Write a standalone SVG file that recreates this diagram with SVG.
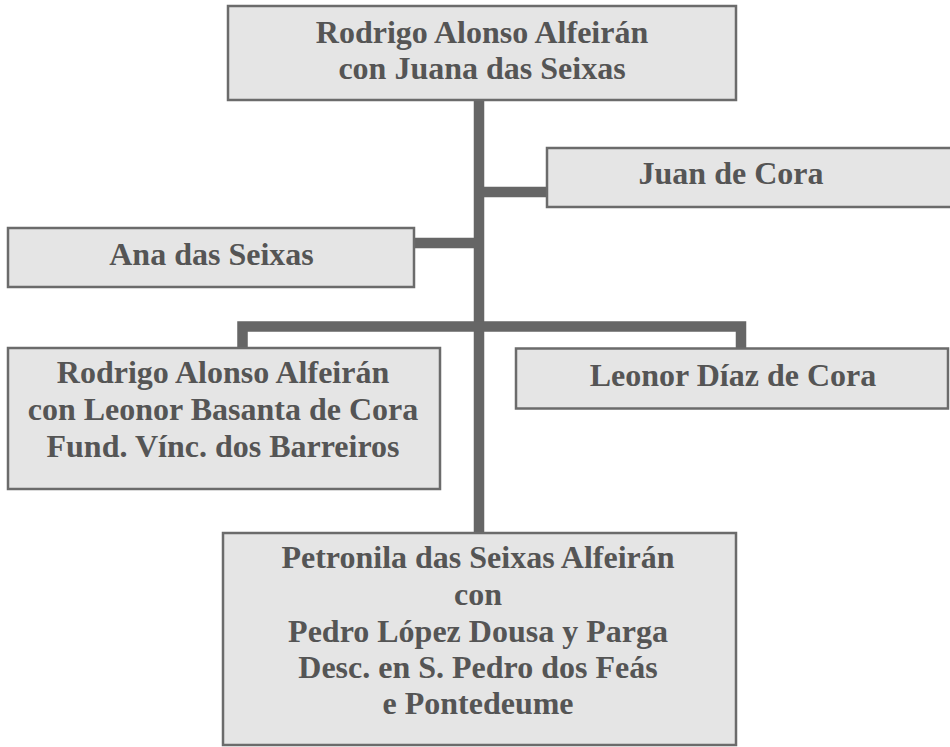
<svg xmlns="http://www.w3.org/2000/svg" width="950" height="747" viewBox="0 0 950 747">
<style>
.box{fill:#e5e5e5;stroke:#6b6b6b;stroke-width:2.5}
.t{font-family:"Liberation Serif","Times New Roman",serif;font-weight:bold;font-size:32px;fill:#555555;text-anchor:middle}
.c{fill:none;stroke:#666666;stroke-width:10.5;stroke-linejoin:miter;stroke-linecap:butt}
</style>
<rect width="950" height="747" fill="#ffffff"/>
<g id="connectors">
<path class="c" d="M479,101 V533"/>
<path class="c" d="M479,192 H547"/>
<path class="c" d="M414,243 H479"/>
<path class="c" d="M242.5,348 V326.5 H741 V349"/>
</g>
<g id="n-top">
<rect class="box" x="228" y="6" width="508" height="94"/>
<text class="t" x="482" y="42.5">Rodrigo Alonso Alfeirán</text>
<text class="t" x="482" y="78.5">con Juana das Seixas</text>
</g>
<g id="n-juan">
<rect class="box" x="547" y="148" width="410" height="59"/>
<text class="t" x="731" y="183.5">Juan de Cora</text>
</g>
<g id="n-ana">
<rect class="box" x="8" y="228" width="406" height="59"/>
<text class="t" x="211.5" y="265">Ana das Seixas</text>
</g>
<g id="n-rodrigo2">
<rect class="box" x="8" y="348" width="432" height="141"/>
<text class="t" x="223" y="383">Rodrigo Alonso Alfeirán</text>
<text class="t" x="223" y="420">con Leonor Basanta de Cora</text>
<text class="t" x="223" y="456.5">Fund. Vínc. dos Barreiros</text>
</g>
<g id="n-leonor">
<rect class="box" x="516" y="348.5" width="432" height="60"/>
<text class="t" x="733" y="386">Leonor Díaz de Cora</text>
</g>
<g id="n-petronila">
<rect class="box" x="223" y="533" width="513" height="212"/>
<text class="t" x="478" y="568">Petronila das Seixas Alfeirán</text>
<text class="t" x="478" y="605">con</text>
<text class="t" x="478" y="641.5">Pedro López Dousa y Parga</text>
<text class="t" x="478" y="678">Desc. en S. Pedro dos Feás</text>
<text class="t" x="478" y="713.5">e Pontedeume</text>
</g>
</svg>
